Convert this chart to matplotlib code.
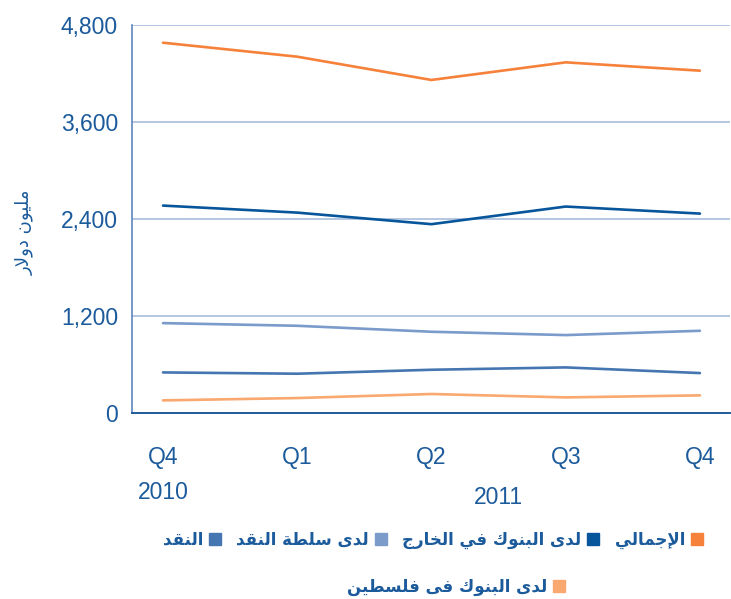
import matplotlib
matplotlib.use("Agg")
import matplotlib.pyplot as plt
from matplotlib.lines import Line2D

# --- data (million USD) ---
quarters = ["Q4", "Q1", "Q2", "Q3", "Q4"]
years = ["2010", "2011"]
total = [4581, 4408, 4120, 4338, 4235]
banks_abroad = [2566, 2479, 2336, 2554, 2467]
pma = [1112, 1079, 1005, 964, 1017]
cash = [502, 486, 535, 564, 494]
banks_palestine = [156, 185, 235, 193, 218]

names = {
    "total": "الإجمالي",
    "abroad": "لدى البنوك في الخارج",
    "pma": "لدى سلطة النقد",
    "cash": "النقد",
    "palestine": "لدى البنوك فى فلسطين",
}
ylabel = "مليون دولار"

# --- minimal arabic shaping (matplotlib has no bidi/shaping) ---
FORMS = {
    # iso, fin, ini, med   (None for right-joining letters)
    "\u0627": ("\uFE8D", "\uFE8E", None, None),
    "\u0625": ("\uFE87", "\uFE88", None, None),
    "\u0628": ("\uFE8F", "\uFE90", "\uFE91", "\uFE92"),
    "\u0629": ("\uFE93", "\uFE94", None, None),
    "\u062A": ("\uFE95", "\uFE96", "\uFE97", "\uFE98"),
    "\u062C": ("\uFE9D", "\uFE9E", "\uFE9F", "\uFEA0"),
    "\u062E": ("\uFEA5", "\uFEA6", "\uFEA7", "\uFEA8"),
    "\u062F": ("\uFEA9", "\uFEAA", None, None),
    "\u0631": ("\uFEAD", "\uFEAE", None, None),
    "\u0633": ("\uFEB1", "\uFEB2", "\uFEB3", "\uFEB4"),
    "\u0637": ("\uFEC1", "\uFEC2", "\uFEC3", "\uFEC4"),
    "\u0641": ("\uFED1", "\uFED2", "\uFED3", "\uFED4"),
    "\u0642": ("\uFED5", "\uFED6", "\uFED7", "\uFED8"),
    "\u0643": ("\uFED9", "\uFEDA", "\uFEDB", "\uFEDC"),
    "\u0644": ("\uFEDD", "\uFEDE", "\uFEDF", "\uFEE0"),
    "\u0645": ("\uFEE1", "\uFEE2", "\uFEE3", "\uFEE4"),
    "\u0646": ("\uFEE5", "\uFEE6", "\uFEE7", "\uFEE8"),
    "\u0648": ("\uFEED", "\uFEEE", None, None),
    "\u0649": ("\uFEEF", "\uFEF0", None, None),
    "\u064A": ("\uFEF1", "\uFEF2", "\uFEF3", "\uFEF4"),
    "LA": ("\uFEFB", "\uFEFC", None, None),
    "LAI": ("\uFEF9", "\uFEFA", None, None),
}


def shape(text):
    chars = []
    i = 0
    while i < len(text):
        c = text[i]
        nxt = text[i + 1] if i + 1 < len(text) else ""
        if c == "\u0644" and nxt == "\u0627":
            chars.append("LA")
            i += 2
        elif c == "\u0644" and nxt == "\u0625":
            chars.append("LAI")
            i += 2
        else:
            chars.append(c)
            i += 1
    out = []
    for k, c in enumerate(chars):
        if c not in FORMS:
            out.append(c)
            continue
        prev = chars[k - 1] if k > 0 else ""
        nxt = chars[k + 1] if k + 1 < len(chars) else ""
        f = FORMS[c]
        jp = prev in FORMS and FORMS[prev][2] is not None
        jn = f[2] is not None and nxt in FORMS
        if jp and jn:
            out.append(f[3])
        elif jp:
            out.append(f[1])
        elif jn:
            out.append(f[2])
        else:
            out.append(f[0])
    return "".join(out)[::-1]


BLUE_TXT = "#1B5A9B"
C_TOTAL = "#F5813A"
C_ABROAD = "#07559A"
C_PMA = "#7B9BCB"
C_CASH = "#4676B2"
C_PAL = "#F9A86F"

plt.rcParams["font.family"] = ["Liberation Sans", "DejaVu Sans"]

fig = plt.figure(figsize=(7.31, 5.99), dpi=100)
ax = fig.add_axes([132 / 731, 1 - 413 / 599, 598 / 731, 388 / 599])

x = list(range(len(quarters)))
lw = 1.9
ax.plot(x, total, color=C_TOTAL, lw=lw, solid_capstyle="round")
ax.plot(x, banks_abroad, color=C_ABROAD, lw=lw, solid_capstyle="round")
ax.plot(x, pma, color=C_PMA, lw=lw, solid_capstyle="round")
ax.plot(x, cash, color=C_CASH, lw=lw, solid_capstyle="round")
ax.plot(x, banks_palestine, color=C_PAL, lw=lw, solid_capstyle="round")

ax.set_xlim(-0.231, 4.224)
ax.set_ylim(0, 4800)
ax.set_yticks([0, 1200, 2400, 3600, 4800])
ax.set_yticklabels(["0", "1,200", "2,400", "3,600", "4,800"])
ax.set_xticks(x)
ax.set_xticklabels(quarters)
ax.tick_params(axis="both", length=0, labelsize=16.5, labelcolor=BLUE_TXT)
ax.tick_params(axis="y", pad=10)
ax.tick_params(axis="x", pad=24)

ax.grid(axis="y", color="#A8BDDC", lw=1.2)
ax.set_axisbelow(True)
for s in ["top", "right"]:
    ax.spines[s].set_visible(False)
ax.spines["left"].set_color("#5E86BE")
ax.spines["left"].set_linewidth(1.2)
ax.spines["bottom"].set_color("#1F5C99")
ax.spines["bottom"].set_linewidth(1.4)

tr = ax.get_xaxis_transform()
ax.text(0, -0.205, years[0], transform=tr, ha="center", va="center",
        fontsize=16.5, color=BLUE_TXT)
ax.text(2.5, -0.217, years[1], transform=tr, ha="center", va="center",
        fontsize=16.5, color=BLUE_TXT)

ax.set_ylabel(shape(ylabel), family="DejaVu Sans", fontsize=13, color=BLUE_TXT)
ax.yaxis.set_label_coords(-0.165, 0.465)


def handle(c):
    return Line2D([], [], marker="s", ls="none", markersize=8,
                  markerfacecolor=c, markeredgecolor=c)


leg_font = {"family": "DejaVu Sans", "weight": "bold", "size": 12}
row1 = [("cash", C_CASH), ("pma", C_PMA), ("abroad", C_ABROAD), ("total", C_TOTAL)]
leg1 = fig.legend([handle(c) for _, c in row1], [shape(names[k]) for k, _ in row1],
                  loc="center", bbox_to_anchor=(433 / 731, 1 - 540 / 599),
                  ncol=4, frameon=False, markerfirst=False, prop=leg_font,
                  handletextpad=0.3, columnspacing=0.9, handlelength=0.8,
                  labelcolor=BLUE_TXT)
leg2 = fig.legend([handle(C_PAL)], [shape(names["palestine"])],
                  loc="center", bbox_to_anchor=(456 / 731, 1 - 587 / 599),
                  frameon=False, markerfirst=False, prop=leg_font,
                  handletextpad=0.3, handlelength=0.8, labelcolor=BLUE_TXT)

fig.savefig("out.png", dpi=100)
